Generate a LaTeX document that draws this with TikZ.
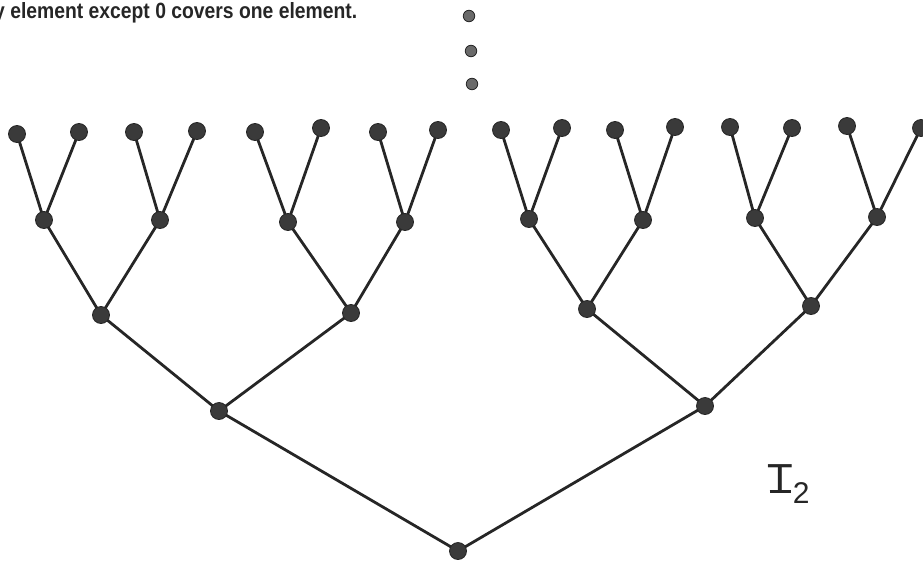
\documentclass[tikz,border=0pt]{standalone}
\usepackage{fontspec}
\setmainfont{Liberation Sans}
\usepackage{graphicx}
\definecolor{ink}{HTML}{262626}
\definecolor{dotfill}{HTML}{3A3A3A}
\definecolor{smalldot}{HTML}{6A6A6A}
\begin{document}
\begin{tikzpicture}[x=1pt,y=-1pt,
  vtx/.style={circle,fill=dotfill,draw=ink,line width=0.8pt,minimum size=17pt,inner sep=0pt},
  edge/.style={draw=ink,line width=2.8pt},
  dot/.style={circle,fill=smalldot,draw=ink,line width=0.8pt,minimum size=11.5pt,inner sep=0pt}]
\useasboundingbox (0,0) rectangle (923,565);
% caption text (cut at left)
\node[anchor=base west,inner sep=0pt,text=ink] (cap) at (-6,18)
  {\resizebox{363pt}{16pt}{\bfseries y element except 0 covers one element.}};
% vertical dots
\node[dot] (d1) at (469,16) {};
\node[dot] (d2) at (471,51) {};
\node[dot] (d3) at (472,84) {};
% positions
\foreach \n/\x/\y in {1/17/134,2/79/132,3/134/132,4/197/131,5/255/132,6/321/128,7/378/132,8/438/130,
  9/501/130,10/562/128,11/615/130,12/675/127,13/730/127,14/792/128,15/847/126,16/921/128}
  \coordinate (pl\n) at (\x,\y);
\foreach \n/\x/\y in {1/44/220,2/160/220,3/288/222,4/405/222,5/529/219,6/643/220,7/755/218,8/877/217}
  \coordinate (pa\n) at (\x,\y);
\foreach \n/\x/\y in {1/101/315,2/351/313,3/587/309,4/811/306}
  \coordinate (pb\n) at (\x,\y);
\coordinate (pc1) at (219,411);
\coordinate (pc2) at (705,406);
\coordinate (pr) at (458,551);
% edges
\foreach \i in {1,...,8}{
  \pgfmathtruncatemacro{\l}{2*\i-1}\pgfmathtruncatemacro{\m}{2*\i}
  \draw[edge] (pl\l) -- (pa\i) -- (pl\m);}
\foreach \i in {1,...,4}{
  \pgfmathtruncatemacro{\l}{2*\i-1}\pgfmathtruncatemacro{\m}{2*\i}
  \draw[edge] (pa\l) -- (pb\i) -- (pa\m);}
\draw[edge] (pb1) -- (pc1) -- (pb2);
\draw[edge] (pb3) -- (pc2) -- (pb4);
\draw[edge] (pc1) -- (pr) -- (pc2);
% vertices
\foreach \n in {1,...,16} \node[vtx] (l\n) at (pl\n) {};
\foreach \n in {1,...,8} \node[vtx] (a\n) at (pa\n) {};
\foreach \n in {1,...,4} \node[vtx] (b\n) at (pb\n) {};
\node[vtx] (c1) at (pc1) {};
\node[vtx] (c2) at (pc2) {};
\node[vtx] (r) at (pr) {};
% label
\node[anchor=base west,inner sep=0pt,text=ink,font=\fontsize{42}{44}\selectfont] (lab) at (767,493)
  {\ooalign{T\cr\hidewidth\rule{0.5em}{0.07em}\hidewidth}\raisebox{-0.25em}{\fontsize{30}{32}\selectfont 2}};
\end{tikzpicture}
\end{document}
